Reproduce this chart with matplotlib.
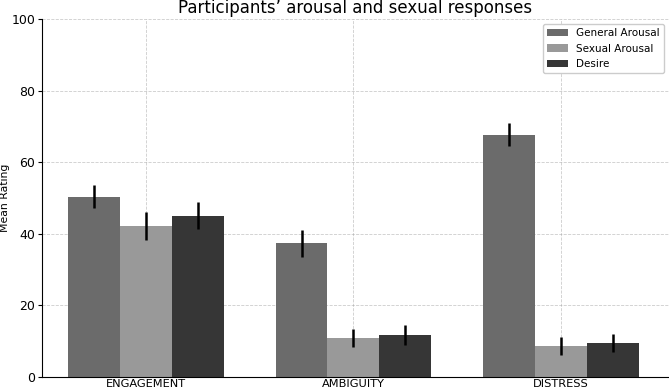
import numpy as np
from matplotlib import pyplot as plt

categories = ['ENGAGEMENT', 'AMBIGUITY', 'DISTRESS']
series = ['General Arousal', 'Sexual Arousal', 'Desire']
means = [
    [50.4, 37.3, 67.7],   # General Arousal
    [42.3, 10.9, 8.7],    # Sexual Arousal
    [45.1, 11.7, 9.5],    # Desire
]
errors = [
    [3.3, 3.7, 3.2],
    [3.9, 2.6, 2.5],
    [3.8, 2.8, 2.6],
]
colors = ['#6b6b6b', '#999999', '#363636']

fig = plt.figure(figsize=(6.69, 3.91), dpi=100)
ax = fig.add_axes([42 / 669, 14 / 391, 1 - 42 / 669, 358 / 391])

x = np.arange(len(categories))
width = 0.25
for i, name in enumerate(series):
    ax.bar(x + (i - 1) * width, means[i], width, yerr=errors[i], color=colors[i],
           label=name, zorder=2, error_kw=dict(ecolor='black', elinewidth=1.8, capsize=0, zorder=3))

ax.set_xticks(x)
ax.set_xticklabels(categories, fontsize=8.2)
ax.tick_params(axis='x', direction='in', length=3, pad=1.2)
ax.tick_params(axis='y', labelsize=9, length=3, pad=2)
ax.set_xlim(-0.5, 2.52)
ax.set_ylim(0, 100)
ax.set_ylabel('Mean Rating', fontsize=7.8, labelpad=1)
ax.set_title('Participants\u2019 arousal and sexual responses', fontsize=12, pad=4)
# faint dashed grid drawn over the bars
ax.grid(True, linestyle='--', color='#999999', alpha=0.5, linewidth=0.6, zorder=2.5)
for s in ['top', 'right']:
    ax.spines[s].set_visible(False)
ax.legend(loc='upper right', fontsize=7.5, framealpha=1, edgecolor='#cccccc')

plt.savefig('out.png', dpi=100)
